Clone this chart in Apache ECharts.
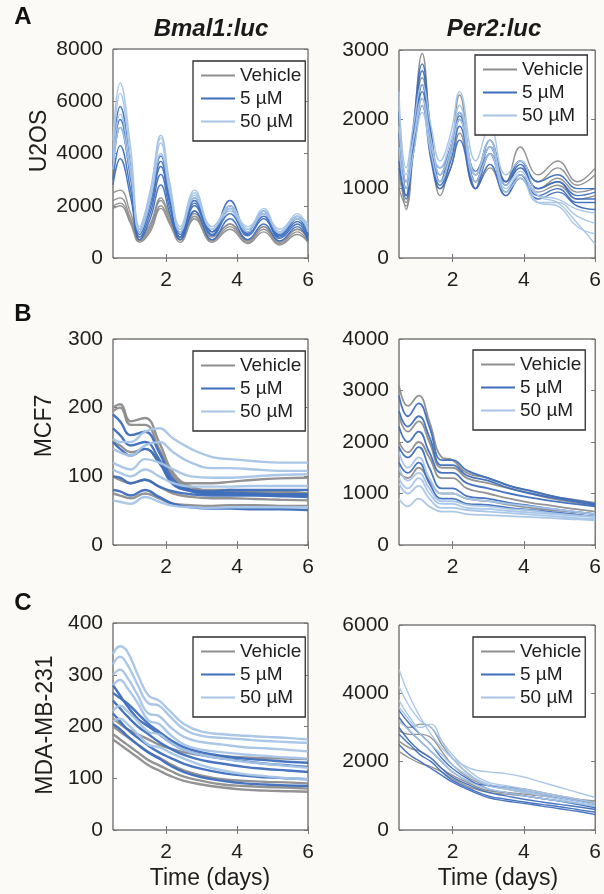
<!DOCTYPE html>
<html><head><meta charset="utf-8">
<script src="https://cdn.jsdelivr.net/npm/echarts@6/dist/echarts.min.js"></script>
<style>html,body{margin:0;padding:0;background:#fbfaf6;} #c{width:604px;height:894px;}</style>
</head><body><div id="c"></div>
<script>
const CONDITIONS = ['Vehicle', '5 µM', '50 µM'];
const X_TICKS = [2, 4, 6];

// ---- Panel A left: U2OS Bmal1:luc ----
const A1_X = [0.5, 0.7, 1.0, 1.25, 1.55, 1.85, 2.1, 2.4, 2.8, 3.3, 3.8, 4.3, 4.75, 5.2, 5.7, 6.0];
const A1_VEH = [
  [2200, 2300, 1500, 700, 1200, 2200, 1500, 700, 1800, 700, 1300, 650, 1200, 600, 1100, 750],
  [1900, 2000, 1300, 600, 1000, 1900, 1300, 600, 1500, 600, 1100, 550, 1000, 500, 900, 600],
  [2500, 2600, 1700, 800, 1300, 2300, 1600, 800, 1700, 800, 1300, 700, 1200, 650, 1100, 800],
  [2000, 2100, 1400, 650, 1100, 2000, 1400, 700, 1600, 650, 1200, 600, 1100, 550, 1000, 650]
];
const A1_5UM = [
  [4000, 5800, 3500, 1000, 2200, 3900, 2400, 900, 2300, 1000, 2200, 1000, 1800, 900, 1600, 900],
  [3500, 5000, 3000, 900, 1900, 3500, 2100, 800, 2100, 900, 1900, 900, 1600, 800, 1400, 800],
  [3000, 4300, 2600, 800, 1700, 3200, 1900, 800, 2000, 850, 1700, 850, 1500, 750, 1300, 700],
  [3800, 5300, 3200, 1100, 2100, 3700, 2200, 1000, 2200, 1000, 2000, 950, 1700, 850, 1500, 850],
  [2800, 3800, 2300, 700, 1500, 2800, 1700, 700, 1800, 700, 1500, 700, 1300, 650, 1200, 650]
];
const A1_50UM = [
  [4500, 6700, 4200, 1200, 2600, 4700, 2900, 1200, 2600, 1200, 1900, 1100, 1800, 1000, 1700, 1100],
  [4000, 6300, 3800, 1100, 2500, 4600, 2800, 1100, 2500, 1100, 1800, 1000, 1700, 950, 1600, 1000],
  [3400, 5000, 3200, 1000, 2200, 4000, 2500, 1000, 2300, 1100, 2000, 1100, 1900, 1000, 1500, 1200],
  [3800, 5500, 3400, 1100, 2300, 4400, 2600, 1100, 2400, 1200, 1900, 1200, 1700, 1100, 1600, 1300]
];

// ---- Panel A right: U2OS Per2:luc ----
const A2_X = [0.5, 0.7, 0.9, 1.15, 1.4, 1.65, 1.95, 2.2, 2.65, 3.05, 3.5, 3.9, 4.4, 4.95, 5.5, 6.0];
const A2_VEH = [
  [1500, 700, 1800, 2950, 1700, 900, 1500, 2350, 1000, 1700, 1100, 1600, 1200, 1400, 1100, 1300],
  [1200, 800, 1600, 2500, 1600, 1100, 1500, 2100, 1100, 1500, 1100, 1400, 1100, 1300, 1050, 1200],
  [2000, 1000, 1800, 2600, 1800, 1200, 1600, 2000, 1200, 1500, 1100, 1300, 1000, 1150, 950, 1000],
  [1000, 750, 1500, 2300, 1500, 1000, 1300, 1800, 1000, 1300, 900, 1200, 950, 1050, 850, 900]
];
const A2_5UM = [
  [1800, 900, 1900, 2800, 1800, 1100, 1600, 2100, 1200, 1700, 1100, 1400, 1100, 1200, 1000, 1000],
  [1600, 1000, 1800, 2700, 1700, 1200, 1500, 2000, 1100, 1600, 1050, 1300, 1000, 1100, 900, 950],
  [1400, 850, 1600, 2400, 1500, 1050, 1400, 1900, 1000, 1500, 950, 1200, 900, 1000, 800, 800],
  [2100, 1100, 1700, 2500, 1600, 1300, 1600, 2050, 1250, 1600, 1050, 1350, 1000, 1100, 850, 850],
  [1300, 900, 1500, 2200, 1400, 1000, 1300, 1700, 1000, 1350, 900, 1150, 850, 950, 750, 700]
];
const A2_50UM = [
  [2200, 1300, 1900, 2500, 1900, 1400, 1800, 2400, 1400, 1900, 1200, 1400, 900, 800, 500, 200],
  [1900, 1100, 1700, 2300, 1700, 1200, 1600, 2200, 1200, 1700, 1050, 1250, 800, 750, 450, 350],
  [1600, 1000, 1500, 2100, 1500, 1100, 1500, 2000, 1100, 1500, 950, 1150, 800, 800, 600, 500],
  [2400, 1200, 1700, 2200, 1600, 1300, 1700, 2100, 1200, 1600, 1000, 1200, 900, 850, 700, 650]
];

// ---- Panel B left: MCF7 Bmal1:luc ----
const B1_X = [0.5, 0.7, 1.0, 1.4, 1.8, 2.2, 2.7, 3.3, 3.8, 4.5, 5.2, 6.0];
const B1_VEH = [
  [200, 205, 180, 185, 150, 105, 85, 80, 80, 78, 78, 75],
  [195, 200, 175, 175, 140, 100, 82, 78, 78, 76, 75, 72],
  [100, 95, 90, 95, 85, 75, 70, 68, 68, 67, 66, 65],
  [150, 145, 135, 140, 120, 95, 90, 90, 92, 95, 97, 98],
  [75, 72, 68, 75, 68, 60, 58, 57, 58, 58, 57, 57]
];
const B1_5UM = [
  [190, 180, 160, 165, 135, 95, 80, 76, 76, 75, 74, 74],
  [170, 160, 145, 150, 125, 90, 78, 74, 74, 73, 72, 72],
  [150, 140, 130, 140, 120, 88, 80, 78, 80, 80, 80, 80],
  [80, 78, 72, 80, 70, 60, 55, 53, 53, 52, 52, 51],
  [100, 98, 90, 95, 85, 78, 74, 72, 72, 72, 71, 70]
];
const B1_50UM = [
  [155, 150, 150, 165, 170, 155, 140, 128, 125, 122, 120, 120],
  [140, 135, 130, 145, 150, 135, 120, 112, 112, 110, 108, 108],
  [120, 115, 110, 125, 120, 110, 100, 98, 98, 100, 102, 103],
  [65, 63, 60, 70, 63, 57, 55, 54, 55, 55, 55, 55],
  [110, 105, 100, 110, 100, 90, 85, 85, 85, 86, 86, 86]
];

// ---- Panel B right: MCF7 Per2:luc ----
const B2_X = [0.5, 0.75, 1.05, 1.35, 1.7, 2.0, 2.4, 3.0, 3.6, 4.2, 4.8, 5.4, 6.0];
const B2_VEH = [
  [3100, 2700, 2900, 2400, 1700, 1650, 1400, 1300, 1150, 1050, 950, 880, 820],
  [2500, 2200, 2400, 2000, 1500, 1500, 1300, 1200, 1100, 1000, 900, 830, 760],
  [2000, 1800, 2000, 1700, 1300, 1300, 1100, 1000, 900, 820, 760, 700, 650],
  [1400, 1300, 1500, 1250, 1000, 1000, 900, 850, 780, 720, 680, 640, 600]
];
const B2_5UM = [
  [2900, 2500, 2750, 2300, 1650, 1650, 1450, 1300, 1150, 1050, 950, 870, 800],
  [2600, 2300, 2500, 2100, 1550, 1550, 1350, 1250, 1100, 1000, 920, 850, 780],
  [2300, 2000, 2200, 1800, 1400, 1400, 1200, 1100, 1000, 920, 850, 800, 750],
  [1900, 1700, 1900, 1500, 1100, 1100, 950, 900, 820, 760, 700, 650, 600],
  [1600, 1400, 1600, 1200, 900, 900, 800, 780, 720, 680, 640, 600, 550]
];
const B2_50UM = [
  [1800, 1500, 1700, 1300, 1000, 1000, 900, 850, 800, 750, 700, 650, 600],
  [1500, 1250, 1400, 1100, 850, 850, 780, 750, 700, 670, 620, 580, 550],
  [1200, 1000, 1150, 900, 720, 720, 680, 650, 620, 590, 560, 530, 500],
  [900, 750, 900, 750, 650, 650, 600, 580, 560, 540, 520, 500, 480],
  [1300, 1100, 1300, 1000, 800, 800, 720, 700, 660, 630, 600, 570, 540]
];

// ---- Panel C left: MDA-MB-231 Bmal1:luc ----
const C1_X = [0.5, 0.7, 0.9, 1.2, 1.5, 1.8, 2.1, 2.5, 3.0, 3.6, 4.2, 4.8, 5.4, 6.0];
const C1_VEH = [
  [200, 190, 180, 165, 150, 140, 128, 115, 105, 98, 95, 93, 92, 90],
  [185, 175, 165, 150, 135, 125, 115, 103, 95, 88, 85, 83, 82, 80],
  [175, 165, 155, 140, 125, 115, 105, 95, 88, 82, 78, 76, 75, 74],
  [215, 205, 195, 185, 175, 165, 158, 150, 145, 142, 140, 139, 138, 137]
];
const C1_5UM = [
  [280, 260, 240, 215, 200, 185, 170, 155, 145, 138, 133, 128, 125, 122],
  [250, 235, 220, 200, 185, 170, 158, 145, 135, 128, 122, 118, 115, 112],
  [225, 210, 195, 178, 163, 150, 140, 128, 118, 110, 105, 102, 100, 98],
  [205, 195, 182, 165, 150, 138, 125, 112, 102, 95, 90, 88, 86, 85],
  [265, 255, 245, 225, 205, 190, 175, 160, 150, 143, 138, 135, 132, 130]
];
const C1_50UM = [
  [340, 355, 345, 300, 260, 250, 230, 205, 190, 185, 182, 180, 178, 175],
  [320, 335, 320, 280, 245, 240, 220, 195, 182, 178, 175, 172, 170, 168],
  [300, 310, 295, 260, 225, 220, 200, 180, 170, 165, 160, 158, 155, 152],
  [280, 290, 275, 245, 212, 205, 185, 165, 155, 150, 146, 143, 140, 138],
  [230, 240, 230, 210, 190, 185, 170, 155, 145, 138, 132, 128, 124, 120],
  [210, 215, 205, 185, 165, 160, 150, 138, 125, 115, 108, 104, 100, 98]
];

// ---- Panel C right: MDA-MB-231 Per2:luc ----
const C2_X = [0.5, 0.8, 1.1, 1.4, 1.7, 2.0, 2.5, 3.0, 3.5, 4.0, 4.5, 5.0, 5.5, 6.0];
const C2_VEH = [
  [2900, 2800, 2800, 2700, 2300, 1900, 1500, 1300, 1200, 1100, 1000, 950, 870, 800],
  [2300, 2100, 1950, 1850, 1700, 1500, 1250, 1100, 1050, 1000, 920, 850, 780, 700],
  [3200, 3000, 3100, 3000, 2500, 2100, 1600, 1300, 1250, 1200, 1100, 1000, 900, 800],
  [2600, 2400, 2300, 2100, 1800, 1600, 1350, 1150, 1100, 1050, 1000, 950, 900, 850]
];
const C2_5UM = [
  [3000, 2600, 2300, 2100, 1800, 1550, 1300, 1100, 1000, 900, 820, 750, 680, 600],
  [2800, 2500, 2200, 2000, 1700, 1450, 1200, 1000, 900, 820, 750, 680, 600, 520],
  [3300, 2900, 2600, 2300, 2000, 1700, 1400, 1300, 1250, 1150, 1050, 950, 850, 750],
  [2500, 2200, 2000, 1800, 1600, 1400, 1150, 950, 850, 780, 700, 620, 550, 450],
  [3500, 3100, 2800, 2500, 2100, 1800, 1450, 1200, 1100, 1000, 920, 850, 750, 650]
];
const C2_50UM = [
  [4700, 3900, 3300, 2800, 2400, 2100, 1800, 1700, 1650, 1550, 1400, 1250, 1100, 950],
  [4200, 3600, 3200, 3000, 2600, 2200, 1700, 1400, 1300, 1200, 1100, 1000, 900, 800],
  [3800, 3300, 3000, 3100, 2600, 2100, 1600, 1350, 1250, 1150, 1050, 950, 850, 750],
  [3200, 2900, 2600, 2300, 2000, 1700, 1400, 1200, 1100, 1000, 920, 850, 780, 700],
  [3600, 3200, 2800, 2500, 2200, 1900, 1550, 1300, 1200, 1100, 1000, 900, 800, 700]
];

const Y_MAX = [8000, 3000, 300, 4000, 400, 6000];
const Y_STEP = [2000, 1000, 100, 1000, 100, 2000];
const ROW_LABELS = ['U2OS', 'MCF7', 'MDA-MB-231'];
const COL_TITLES = ['Bmal1:luc', 'Per2:luc'];
const PANEL_LETTERS = ['A', 'B', 'C'];
const X_NAME = 'Time (days)';

const PANELS = [
  { x: A1_X, groups: [A1_VEH, A1_5UM, A1_50UM] },
  { x: A2_X, groups: [A2_VEH, A2_5UM, A2_50UM] },
  { x: B1_X, groups: [B1_VEH, B1_5UM, B1_50UM] },
  { x: B2_X, groups: [B2_VEH, B2_5UM, B2_50UM] },
  { x: C1_X, groups: [C1_VEH, C1_5UM, C1_50UM] },
  { x: C2_X, groups: [C2_VEH, C2_5UM, C2_50UM] }
];

// ---- layout / styling ----
const FONT = "'Liberation Sans', Arial, Helvetica, sans-serif";
const COLORS = ['#8d8d8d', '#3e6ebd', '#a7c4e7'];
const LAYOUT = [
  { left: 113, top: 49, width: 195, height: 209, lg: [193, 61], lw: 1.4 },
  { left: 399, top: 50, width: 198, height: 208, lg: [475, 55], lw: 1.4 },
  { left: 113, top: 339, width: 195, height: 206, lg: [193, 351], lw: 2.4 },
  { left: 399, top: 339, width: 198, height: 206, lg: [473, 350], lw: 1.8 },
  { left: 113, top: 623, width: 195, height: 207, lg: [193, 637], lw: 2.4 },
  { left: 399, top: 625, width: 198, height: 205, lg: [473, 637], lw: 1.4 }
];

const grid = [], xAxis = [], yAxis = [], series = [], legend = [], graphic = [];
const tickStyle = { color: '#777', width: 1 };
PANELS.forEach((p, i) => {
  const L = LAYOUT[i];
  grid.push({ left: L.left, top: L.top, width: L.width, height: L.height, show: true,
    borderColor: '#3a3a3a', borderWidth: 1, backgroundColor: '#ffffff', containLabel: false });
  const xBase = { gridIndex: i, type: 'value', min: 0.5, max: 6, splitLine: { show: false },
    axisLine: { show: false } };
  xAxis.push(Object.assign({}, xBase, { position: 'bottom',
    axisTick: { show: true, inside: true, length: 4, customValues: X_TICKS, lineStyle: tickStyle },
    axisLabel: { show: true, customValues: X_TICKS, fontSize: 21, color: '#1e1e1e', fontFamily: FONT, margin: 12 } }));
  xAxis.push(Object.assign({}, xBase, { position: 'top',
    axisTick: { show: true, inside: true, length: 4, customValues: X_TICKS, lineStyle: tickStyle },
    axisLabel: { show: false } }));
  const yBase = { gridIndex: i, type: 'value', min: 0, max: Y_MAX[i], interval: Y_STEP[i],
    splitLine: { show: false }, axisLine: { show: false } };
  yAxis.push(Object.assign({}, yBase, { position: 'left',
    axisTick: { show: true, inside: true, length: 4, lineStyle: tickStyle },
    axisLabel: { fontSize: 21, color: '#1e1e1e', fontFamily: FONT, margin: 10, formatter: v => String(v) } }));
  yAxis.push(Object.assign({}, yBase, { position: 'right',
    axisTick: { show: true, inside: true, length: 4, lineStyle: tickStyle },
    axisLabel: { show: false } }));
  p.groups.forEach((lines, g) => {
    lines.forEach(ys => {
      series.push({ type: 'line', name: CONDITIONS[g], xAxisIndex: 2 * i, yAxisIndex: 2 * i,
        data: p.x.map((xv, k) => [xv, ys[k]]), smooth: 0.45, symbol: 'none', silent: true,
        lineStyle: { color: COLORS[g], width: L.lw, opacity: 0.95 }, itemStyle: { color: COLORS[g] } });
    });
  });
  legend.push({ orient: 'vertical', left: L.lg[0], top: L.lg[1], data: CONDITIONS, selectedMode: false,
    icon: 'rect', itemWidth: 34, itemHeight: 2, itemGap: 4, padding: [5, 4, 10, 8],
    borderColor: '#2e2e2e', borderWidth: 1.3, backgroundColor: '#ffffff',
    textStyle: { fontSize: 19, color: '#1e1e1e', fontFamily: FONT } });
});

// titles
[[211, 29], [494, 29]].forEach((pos, c) => {
  graphic.push({ type: 'text', x: pos[0], y: pos[1], style: { text: COL_TITLES[c], align: 'center',
    verticalAlign: 'middle', fontSize: 24, fontWeight: 'bold', fontStyle: 'italic', fontFamily: FONT, fill: '#1a1a1a' } });
});
// panel letters
[[23, 17], [23, 314], [23, 603]].forEach((pos, r) => {
  graphic.push({ type: 'text', x: pos[0], y: pos[1], style: { text: PANEL_LETTERS[r], align: 'center',
    verticalAlign: 'middle', fontSize: 24, fontWeight: 'bold', fontFamily: FONT, fill: '#111' } });
});
// row labels (rotated)
[[40, 141], [45, 426], [46, 725]].forEach((pos, r) => {
  graphic.push({ type: 'text', x: pos[0], y: pos[1], rotation: Math.PI / 2, style: { text: ROW_LABELS[r],
    align: 'center', verticalAlign: 'middle', fontSize: 23, fontFamily: FONT, fill: '#1e1e1e' } });
});
// x axis names
[[210, 879], [498, 879]].forEach(pos => {
  graphic.push({ type: 'text', x: pos[0], y: pos[1], style: { text: X_NAME, align: 'center',
    verticalAlign: 'middle', fontSize: 23, fontFamily: FONT, fill: '#1e1e1e' } });
});

const chart = echarts.init(document.getElementById('c'), null, { renderer: 'canvas' });
chart.setOption({ animation: false, backgroundColor: '#fbfaf6', grid, xAxis, yAxis, series, legend, graphic });
</script></body></html>
